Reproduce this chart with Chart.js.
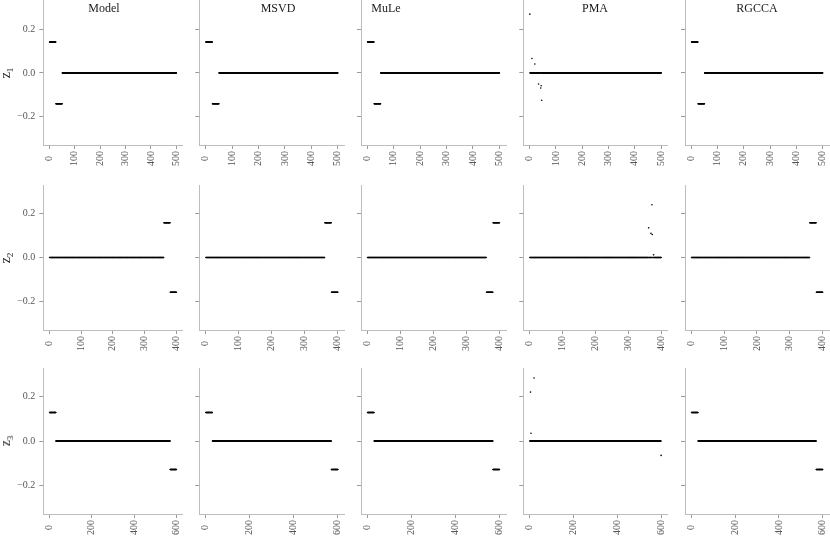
<!DOCTYPE html>
<html>
<head>
<meta charset="utf-8">
<script src="https://cdn.jsdelivr.net/npm/chart.js@4.4.0/dist/chart.umd.min.js"></script>
<style>
  body { margin: 0; background: #fff; }
  #wrap { position: relative; width: 830px; height: 554px; overflow: hidden;
          font-family: "Liberation Serif", "DejaVu Serif", serif; }
  #wrap canvas { position: absolute; left: 0; top: 0; }
  .strip { position: absolute; top: 1px; font-size: 12px; line-height: 14px; color: #1a1a1a;
           transform: translateX(-50%); white-space: nowrap; }
  .ylab { position: absolute; font-size: 14px; line-height: 14px; color: #1a1a1a; white-space: nowrap;
          transform: translate(-50%, -50%) rotate(-90deg); }
  .ylab sub { font-size: 9px; vertical-align: -3px; }
</style>
</head>
<body>
<div id="wrap"></div>
<script>
const methods = ['Model', 'MSVD', 'MuLe', 'PMA', 'RGCCA'];
const rowNames = ['1', '2', '3'];
const rowN = [500, 400, 600];
const xTicks = [[0, 100, 200, 300, 400, 500], [0, 100, 200, 300, 400], [0, 200, 400, 600]];
const yTicks = [-0.2, 0, 0.2];

// loadings as runs of equal value: [first index, last index, value]
const z1Model = [[1, 25, 0.141], [26, 50, -0.141], [51, 500, 0]];
const z1MSVD  = [[1, 25, 0.141], [26, 50, -0.141], [51, 500, 0]];
const z1MuLe  = [[1, 25, 0.141], [26, 50, -0.141], [51, 500, 0]];
const z1PMA   = [[1, 500, 0]];
const z1RGCCA = [[1, 25, 0.141], [26, 50, -0.141], [51, 500, 0]];

const z2Model = [[1, 360, 0], [361, 380, 0.158], [381, 400, -0.158]];
const z2MSVD  = [[1, 360, 0], [361, 380, 0.158], [381, 400, -0.158]];
const z2MuLe  = [[1, 360, 0], [361, 380, -0.158], [381, 400, 0.158]];
const z2PMA   = [[1, 400, 0]];
const z2RGCCA = [[1, 360, 0], [361, 380, 0.158], [381, 400, -0.158]];

const z3Model = [[1, 30, 0.129], [31, 570, 0], [571, 600, -0.129]];
const z3MSVD  = [[1, 30, 0.129], [31, 570, 0], [571, 600, -0.129]];
const z3MuLe  = [[1, 30, 0.129], [31, 570, 0], [571, 600, -0.129]];
const z3PMA   = [[1, 600, 0]];
const z3RGCCA = [[1, 30, 0.129], [31, 570, 0], [571, 600, -0.129]];

// single off-zero PMA loadings: [index, value]
const z1PMAOut = [[1, 0.269], [9, 0.066], [20, 0.041], [34, -0.051], [42, -0.069], [44, -0.059], [46, -0.125]];
const z2PMAOut = [[362, 0.135], [369, 0.110], [372, 0.240], [373, 0.105], [377, 0.012]];
const z3PMAOut = [[4, 0.221], [6, 0.035], [20, 0.285], [600, -0.065]];

const runs = [
  [z1Model, z1MSVD, z1MuLe, z1PMA, z1RGCCA],
  [z2Model, z2MSVD, z2MuLe, z2PMA, z2RGCCA],
  [z3Model, z3MSVD, z3MuLe, z3PMA, z3RGCCA],
];
const outliers = [z1PMAOut, z2PMAOut, z3PMAOut];

// panel placement on the page
const colX = [[43.3, 182.7], [199.3, 344.4], [361, 506], [523.3, 667.7], [685, 830]];
const rowY = [[-0.5, 145], [185, 330], [368, 514]];
const stripX = [104, 278, 386, 595, 757];
const YW = 40, XH = 30;

function expand(r, out) {
  const pts = [];
  r.forEach(([a, b, v]) => { for (let i = a; i <= b; i++) pts.push({ x: i, y: v }); });
  (out || []).forEach(([i, v]) => { pts[i - 1] = { x: i, y: v }; });
  return pts;
}

const wrap = document.getElementById('wrap');
const tickFont = { family: '"Liberation Serif", serif', size: 10 };

rowN.forEach((n, r) => {
  const pad = 0.05 * (n - 1);
  colX.forEach(([x0, x1], c) => {
    const [y0, y1] = rowY[r];
    const cv = document.createElement('canvas');
    cv.width = 830; cv.height = 554;
    wrap.appendChild(cv);
    const pts = expand(runs[r][c], methods[c] === 'PMA' ? outliers[r] : null);
    new Chart(cv, {
      type: 'scatter',
      data: {
        datasets: [{
          data: pts,
          pointRadius: 0.8,
          pointBorderWidth: 0,
          pointBackgroundColor: '#000',
          pointHoverRadius: 0,
        }]
      },
      options: {
        responsive: false,
        animation: false,
        events: [],
        layout: { padding: { left: x0 - YW, right: 830 - x1, top: y0, bottom: 554 - y1 - XH } },
        plugins: { legend: { display: false }, tooltip: { enabled: false } },
        scales: {
          x: {
            type: 'linear',
            min: 1 - pad,
            max: n + pad,
            afterBuildTicks: s => { s.ticks = xTicks[r].map(v => ({ value: v })); },
            afterFit: s => { s.height = XH; s.paddingLeft = 0; s.paddingRight = 0; },
            grid: { drawOnChartArea: false, drawTicks: true, tickLength: 4, color: '#9a9a9a' },
            border: { color: '#bdbdbd' },
            ticks: {
              font: tickFont, color: '#555', padding: 2, autoSkip: false,
              minRotation: 90, maxRotation: 90,
              callback: v => String(v) + '\u2007'.repeat((3 - String(v).length) / 2),
            },
          },
          y: {
            min: -0.33,
            max: 0.33,
            afterBuildTicks: s => { s.ticks = yTicks.map(v => ({ value: v })); },
            afterFit: s => { s.width = YW; s.paddingTop = 0; s.paddingBottom = 0; },
            grid: { drawOnChartArea: false, drawTicks: true, tickLength: 4, color: '#9a9a9a' },
            border: { color: '#bdbdbd' },
            ticks: {
              font: tickFont, color: '#555', padding: 4,
              callback: v => c === 0 ? v.toFixed(1).replace('-', '\u2212') : '',
            },
          },
        },
      },
    });
  });
  const lab = document.createElement('div');
  lab.className = 'ylab';
  lab.style.left = '8px';
  lab.style.top = ((Math.max(rowY[r][0], 0) + rowY[r][1]) / 2) + 'px';
  lab.innerHTML = 'z<sub>' + rowNames[r] + '</sub>';
  wrap.appendChild(lab);
});

methods.forEach((m, c) => {
  const d = document.createElement('div');
  d.className = 'strip';
  d.style.left = stripX[c] + 'px';
  d.textContent = m;
  wrap.appendChild(d);
});
</script>
</body>
</html>
